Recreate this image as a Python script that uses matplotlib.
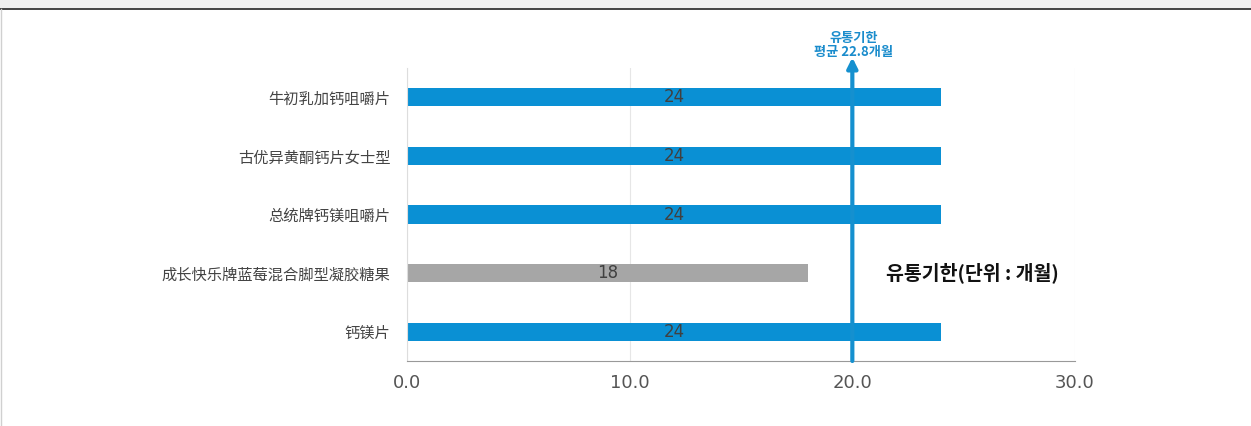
import matplotlib
matplotlib.use("Agg")
import matplotlib.pyplot as plt
from matplotlib.patches import Rectangle

products = ["牛初乳加钙咀嚼片", "古优异黄酮钙片女士型", "总统牌钙镁咀嚼片",
            "成长快乐牌蓝莓混合脚型凝胶糖果", "钙镁片"]
months = [24, 24, 24, 18, 24]
bar_colors = ["#0a90d4", "#0a90d4", "#0a90d4", "#a6a6a6", "#0a90d4"]
x_ticks = [0, 10, 20, 30]
avg_line_x = 20.0
avg_label = "유통기한\n평균 22.8개월"
unit_label = "유통기한(단위 : 개월)"

plt.rcParams["font.family"] = ["Noto Sans CJK SC", "DejaVu Sans"]

fig = plt.figure(figsize=(12.51, 4.26), dpi=100)
fig.patches.append(Rectangle((0, 1 - 7 / 426), 1, 7 / 426, transform=fig.transFigure,
                             color="#efefef", zorder=0))
fig.lines.append(plt.Line2D([0, 1], [1 - 8.5 / 426] * 2, transform=fig.transFigure,
                            color="#222222", linewidth=1.2))
fig.lines.append(plt.Line2D([0.0006, 0.0006], [0, 1 - 8.5 / 426], transform=fig.transFigure,
                            color="#d0d0d0", linewidth=1))

ax = fig.add_axes([407 / 1251, 1 - 361 / 426, (1075 - 407) / 1251, (361 - 68) / 426])
y = list(range(len(products)))
ax.barh(y, months, height=0.31, color=bar_colors, zorder=2)
for yi, v in zip(y, months):
    ax.text(v / 2, yi, str(v), ha="center", va="center", fontsize=12,
            color="#404040", zorder=3, family="DejaVu Sans")

ax.set_xlim(0, 30)
ax.set_ylim(len(products) - 0.5, -0.5)
ax.set_xticks(x_ticks)
ax.set_xticklabels([f"{t:.1f}" for t in x_ticks], fontsize=13, color="#555555",
                   family="DejaVu Sans")
ax.set_yticks(y)
ax.set_yticklabels(products, fontsize=11, color="#444444")
ax.tick_params(axis="both", length=0)
ax.tick_params(axis="x", pad=9)
ax.tick_params(axis="y", pad=12)
ax.grid(axis="x", color="#e6e6e6", linewidth=0.8, zorder=0)
for s in ["top", "right"]:
    ax.spines[s].set_visible(False)
ax.spines["left"].set_color("#dddddd")
ax.spines["bottom"].set_color("#999999")

ax.annotate("", xy=(avg_line_x, -0.68), xytext=(avg_line_x, len(products) - 0.5),
            arrowprops=dict(arrowstyle="-|>,head_width=0.3,head_length=0.6",
                            color="#1590cf", linewidth=3, shrinkA=0, shrinkB=0),
            annotation_clip=False, zorder=4)
ax.text(avg_line_x + 0.05, -0.66, avg_label, ha="center", va="bottom", fontsize=9.5,
        fontweight="bold", color="#1a8ccc", family=["Noto Sans CJK KR", "DejaVu Sans"],
        linespacing=1.0, zorder=3)
ax.text(21.5, 3.0, unit_label, ha="left", va="center", fontsize=14,
        fontweight="bold", color="#111111", family=["Noto Sans CJK KR", "DejaVu Sans"])

fig.savefig("out.png", dpi=100)
